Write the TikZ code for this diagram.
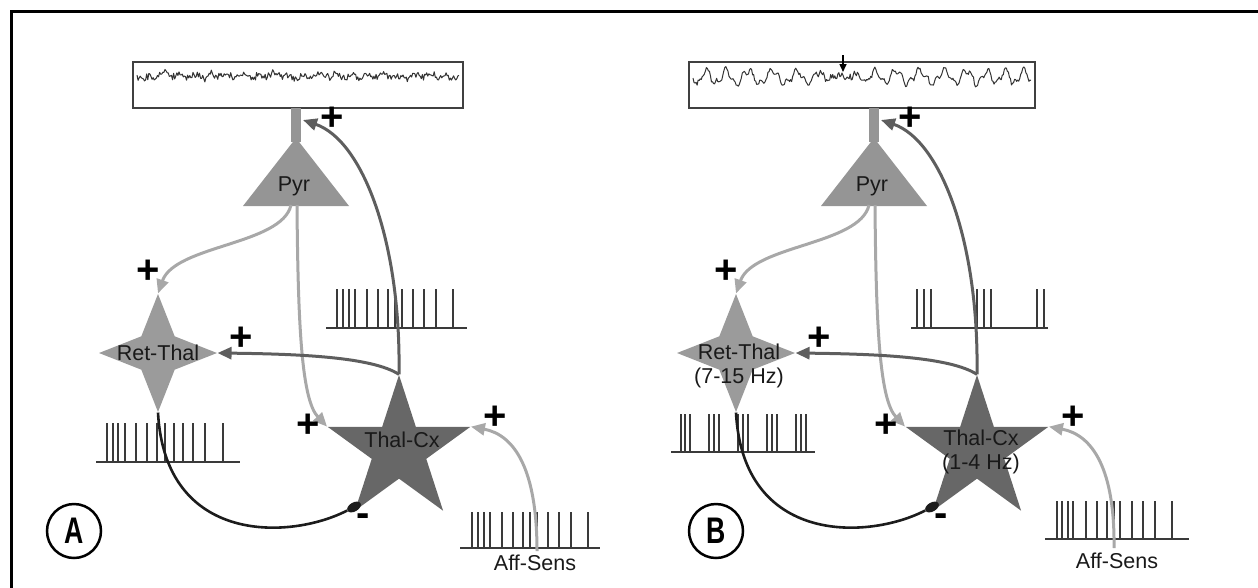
\documentclass[tikz,border=0pt]{standalone}
\usepackage{fontspec}
\setmainfont{Liberation Sans}
\usetikzlibrary{shapes.geometric,arrows.meta}

\definecolor{pyrgray}{HTML}{959595}
\definecolor{rtgray}{HTML}{9B9B9B}
\definecolor{tcgray}{HTML}{676767}
\definecolor{exclight}{HTML}{A8A8A8}
\definecolor{excdark}{HTML}{5E5E5E}
\definecolor{inhblack}{HTML}{1C1C1C}
\definecolor{traceink}{HTML}{3A3A3A}

\tikzset{
  lbl/.style={font=\fontsize{21.5}{24}\selectfont, text=black!90, inner sep=0pt, align=center},
  sgn/.style={font=\fontsize{40}{40}\selectfont\bfseries, inner sep=0pt},
  rtstar/.style={star, star points=4, star point ratio=2.5, minimum size=118pt, inner sep=0pt, fill=rtgray},
  tcstar/.style={star, star points=5, star point ratio=2.618, minimum size=150pt, inner sep=0pt, fill=tcgray},
  eegbox/.style={draw=black!75, line width=2pt, minimum height=46pt, inner sep=0pt},
  lightexc/.style={draw=exclight, line width=3pt, -{Triangle[length=14pt,width=12pt]}},
  darkexc/.style={draw=excdark, line width=3pt, -{Triangle[length=14pt,width=12pt]}},
  inhib/.style={draw=inhblack, line width=2.6pt},
  synblob/.style={ellipse, fill=inhblack, minimum width=15pt, minimum height=9pt, inner sep=0pt},
  train/.style={draw=traceink, line width=1.8pt},
  eeg/.style={draw=black!80, line width=1pt, line join=round},
  panelmark/.style={circle, draw=black, line width=2.5pt, minimum size=54pt, inner sep=0pt,
    font=\fontsize{37}{37}\selectfont\bfseries},
}

% spike train: x start, x end, baseline y, spike top y, spike positions
\newcommand{\spikes}[5]{%
  \draw[train] (#1,#3) -- (#2,#3);
  \foreach \s in {#5} \draw[train] (\s,#3) -- (\s,#4);
}

% thalamo-cortical loop: name suffix, horizontal offset
\newcommand{\circuit}[2]{%
\begin{scope}[xshift=#2]
  \fill[pyrgray] (291,108) rectangle (301,142);
  \fill[pyrgray] (296,138) -- (349,206) -- (243,206) -- cycle;
  \coordinate (pyrL#1) at (291,205);
  \coordinate (pyrR#1) at (297,205);
  \coordinate (stem#1) at (303,120);
  \node[rtstar] (rt#1) at (158,353) {};
  \node[tcstar] (tc#1) at (399,450) {};
  \node[synblob, rotate=30] (inh#1) at (354,507) {};
  \draw[lightexc] (pyrL#1) .. controls (282,245) and (175,245) .. (rt#1.outer point 1);
  \draw[lightexc] (pyrR#1) .. controls (298,330) and (302,400) .. (tc#1.outer point 2);
  \draw[lightexc] (aff#1) .. controls (537,470) and (515,435) .. (tc#1.outer point 5);
  \draw[darkexc] (tc#1.outer point 1) .. controls (372,357) and (300,354) .. (rt#1.outer point 4);
  \draw[darkexc] (tc#1.outer point 1) .. controls (401,240) and (362,140) .. (stem#1);
  \draw[inhib] (rt#1.outer point 3) .. controls (165,545) and (290,540) .. (inh#1);
  \node[sgn] (p1#1) at (332,119) {+};
  \node[sgn] (p2#1) at (148,272) {+};
  \node[sgn] (p3#1) at (241,339) {+};
  \node[sgn] (p4#1) at (308,426) {+};
  \node[sgn] (p5#1) at (495,418) {+};
  \node[sgn] (m1#1) at (363,520) {-};
\end{scope}}

\begin{document}
\begin{tikzpicture}[x=1pt, y=-1pt]
\useasboundingbox (0,0) rectangle (1258,587);

% frame
\draw[line width=3pt] (11,592) -- (11,11) -- (1262,11);

% recording windows
\node[eegbox, minimum width=330pt] (eegA) at (298,85) {};
\node[eegbox, minimum width=346pt] (eegB) at (862,85) {};

% awake, desynchronised trace
\pgfmathsetseed{7}
\draw[eeg] plot[domain=137:459, samples=300]
  (\x, {76 + 4.6*(rnd+rnd-1) + 1.6*sin((\x-137)*23) + 1.2*sin((\x-137)*7+40)});
% slow-wave trace with a burst marked by the arrow
\draw[eeg] plot[domain=693:1031, samples=330]
  (\x, {77 + (1-0.7/(1+pow(((\x-843)/22)*((\x-843)/22),2)))
          *(6.5*sin((\x-693)*17 + 70*sin((\x-693)*2.3)) + 3*sin((\x-693)*41+20))
        + 2.6*(rnd+rnd-1) + 3.5/(1+pow(((\x-843)/20)*((\x-843)/20),2))*(rnd+rnd-1)});

\coordinate (mk1) at (843,55);
\coordinate (mk2) at (843,72);
\draw[line width=1.5pt, -{Triangle[length=8pt,width=7pt]}] (mk1) -- (mk2);

% spike trains, panel A
\spikes{326}{467}{328}{289}{337,343,349,355,367,378,388,395,402,413,424,436,453}
\spikes{96}{240}{462}{423}{107,113,118,125,136,147,157,165,174,183,193,205,223}
\spikes{460}{600}{548}{512}{472,478,484,490,502,513,523,530,537,548,559,571,588}

% spike trains, panel B
\spikes{911}{1048}{328}{289}{917,924,931,977,984,991,1037,1044}
\spikes{671}{815}{452}{414}{681,685,690,709,714,719,738,743,748,767,772,777,796,801,806}
\spikes{1045}{1189}{539}{501}{1057,1062,1068,1073,1086,1097,1107,1114,1120,1132,1143,1155,1172}

\coordinate (affA) at (537,551);
\coordinate (affB) at (1114,548);

\circuit{A}{0}
\circuit{B}{578}

% labels, panel A
\node[lbl] (pyrtA) at (294,186) {Pyr};
\node[lbl] (rttA) at (158,353) {Ret-Thal};
\node[lbl] (tctA) at (402,440) {Thal-Cx};
\node[lbl] (afftA) at (535,563) {Aff-Sens};

% labels, panel B
\node[lbl] (pyrtB) at (872,186) {Pyr};
\node[lbl] (rttB) at (739,366) {Ret-Thal\\(7-15 Hz)};
\node[lbl] (tctB) at (981,452) {Thal-Cx\\(1-4 Hz)};
\node[lbl] (afftB) at (1117,561) {Aff-Sens};

% panel marks
\node[panelmark] (markA) at (74,531) {\scalebox{0.72}[1]{A}};
\node[panelmark] (markB) at (716,531) {\scalebox{0.72}[1]{B}};
\end{tikzpicture}
\end{document}
